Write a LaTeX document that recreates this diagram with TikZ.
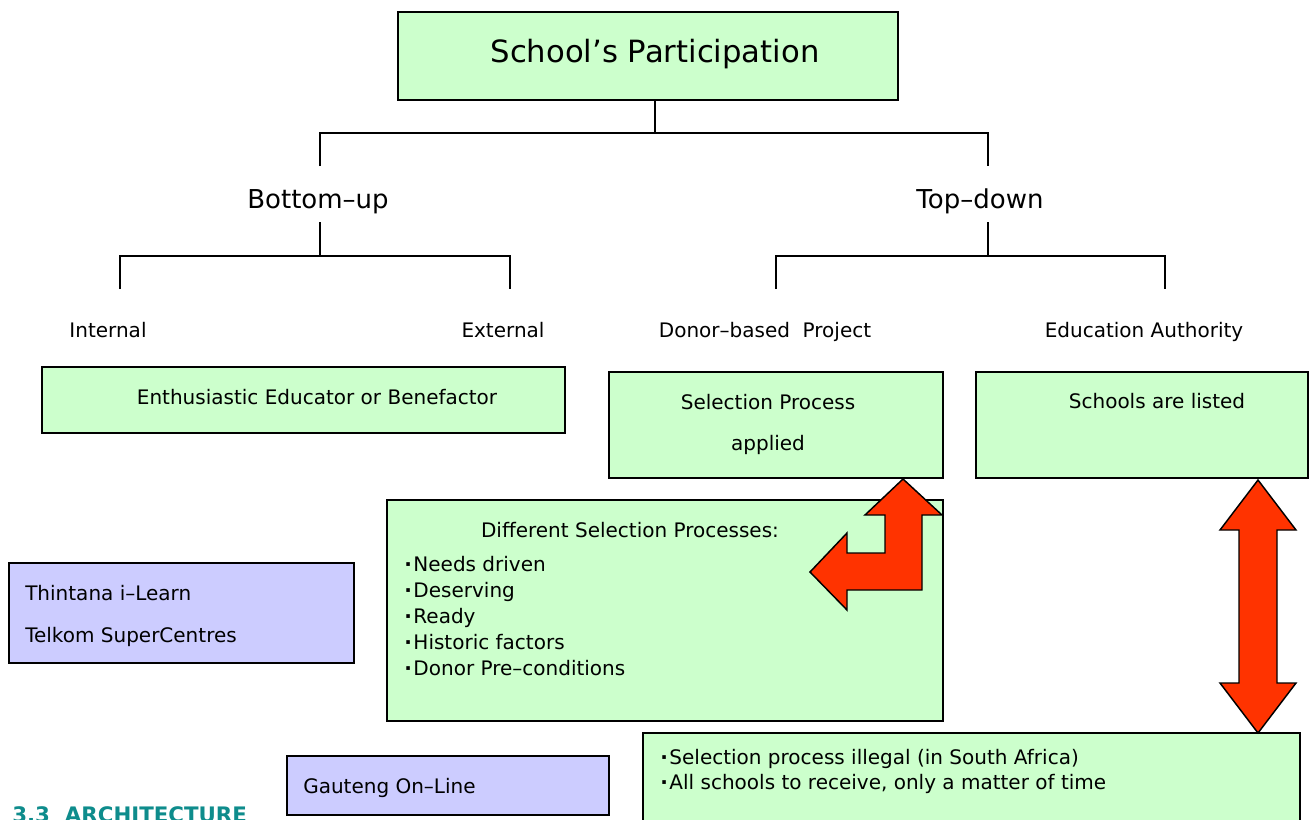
\documentclass[tikz,border=0pt]{standalone}
\usepackage{fontspec}
\setmainfont{DejaVu Sans}
\usetikzlibrary{fit}
\definecolor{boxgreen}{HTML}{CCFFCC}
\definecolor{boxblue}{HTML}{CCCCFF}
\definecolor{arrowred}{HTML}{FF3300}
\definecolor{tealtext}{HTML}{0E8C8C}
\newcommand{\bul}{{\bfseries ·}\hspace{1.2pt}}
\begin{document}
\begin{tikzpicture}[x=0.75pt,y=-0.75pt,
  gbox/.style={draw=black, line width=1.1pt, fill=boxgreen, inner sep=0pt},
  bbox/.style={draw=black, line width=1.1pt, fill=boxblue, inner sep=0pt},
  conn/.style={draw=black, line width=1.1pt},
  blockarrow/.style={draw=black, line width=1.1pt, fill=arrowred, line join=miter},
  titletext/.style={font=\fontsize{23}{28}\selectfont, inner sep=0pt, anchor=base},
  lvltext/.style={font=\fontsize{19.5}{24}\selectfont, inner sep=0pt, anchor=base},
  bodytext/.style={font=\fontsize{15}{18}\selectfont, inner sep=0pt, anchor=base},
  bodyleft/.style={font=\fontsize{15}{18}\selectfont, inner sep=0pt, anchor=base west},
  headtext/.style={font=\fontsize{16}{19}\selectfont\bfseries, text=tealtext, inner sep=0pt, anchor=base west}]
\clip (0,0) rectangle (1314,819);
\fill[white] (0,0) rectangle (1314,819);

% top box
\node[gbox, fit={(398,12) (898,100)}] (top) {};
\node[titletext] (toptext) at (655,62) {School’s Participation};

% level 2
\node[lvltext] (bu) at (318,208) {Bottom–up};
\node[lvltext] (td) at (980,208) {Top–down};

\coordinate (j0) at (655,133);
\coordinate (jL) at (320,133);
\coordinate (jR) at (988,133);
\coordinate (buTop) at (320,166);
\coordinate (tdTop) at (988,166);
\draw[conn] (j0 |- top.south) -- (j0);
\draw[conn] (buTop) -- (jL) -- (jR) -- (tdTop);

% level 3 connectors
\coordinate (buBot) at (320,222);
\coordinate (buJ) at (320,256);
\coordinate (buJL) at (120,256);
\coordinate (buJR) at (510,256);
\coordinate (inTop) at (120,289);
\coordinate (exTop) at (510,289);
\draw[conn] (buBot) -- (buJ);
\draw[conn] (inTop) -- (buJL) -- (buJR) -- (exTop);

\coordinate (tdBot) at (988,222);
\coordinate (tdJ) at (988,256);
\coordinate (tdJL) at (776,256);
\coordinate (tdJR) at (1165,256);
\coordinate (doTop) at (776,289);
\coordinate (eaTop) at (1165,289);
\draw[conn] (tdBot) -- (tdJ);
\draw[conn] (doTop) -- (tdJL) -- (tdJR) -- (eaTop);

% level 3 labels
\node[bodytext] (internal) at (108,337) {Internal};
\node[bodytext] (external) at (503,337) {External};
\node[bodytext] (donor) at (765,337) {Donor–based\ \ Project};
\node[bodytext] (eduauth) at (1144,337) {Education Authority};

% boxes
\node[gbox, fit={(42,367) (565,433)}] (enth) {};
\node[bodytext] (enthtext) at (317,404) {Enthusiastic Educator or Benefactor};

\node[gbox, fit={(609,372) (943,478)}] (selproc) {};
\node[bodytext] (seltext1) at (768,409) {Selection Process};
\node[bodytext] (seltext2) at (768,450) {applied};

\node[gbox, fit={(976,372) (1308,478)}] (listed) {};
\node[bodytext] (listedtext) at (1157,408) {Schools are listed};

\node[gbox, fit={(387,500) (943,721)}] (diff) {};
\node[bodytext] (diffhead) at (630,537) {Different Selection Processes:};
\node[bodyleft] (b1) at (404,571) {\bul Needs driven};
\node[bodyleft] (b2) at (404,597) {\bul Deserving};
\node[bodyleft] (b3) at (404,623) {\bul Ready};
\node[bodyleft] (b4) at (404,649) {\bul Historic factors};
\node[bodyleft] (b5) at (404,675) {\bul Donor Pre–conditions};

\node[bbox, fit={(9,563) (354,663)}] (thin) {};
\node[bodyleft] (thin1) at (25,600) {Thintana i–Learn};
\node[bodyleft] (thin2) at (25,642) {Telkom SuperCentres};

\node[bbox, fit={(287,756) (609,815)}] (gol) {};
\node[bodyleft] (goltext) at (303,793) {Gauteng On–Line};

\node[gbox, fit={(643,733) (1300,860)}] (illegal) {};
\node[bodyleft] (ill1) at (660,764) {\bul Selection process illegal (in South Africa)};
\node[bodyleft] (ill2) at (660,789) {\bul All schools to receive, only a matter of time};

% clipped heading at bottom left
\node[headtext] (arch) at (12,822) {3.3\ \ ARCHITECTURE};

% block arrows
\draw[blockarrow] (903,479) -- (942,515) -- (922,515) -- (922,590) -- (847,590)
  -- (847,610) -- (810,572) -- (847,533) -- (847,553) -- (885,553) -- (885,515)
  -- (865,515) -- cycle;
\draw[blockarrow] (1258,480) -- (1296,530) -- (1277,530) -- (1277,683) -- (1296,683)
  -- (1258,733) -- (1220,683) -- (1239,683) -- (1239,530) -- (1220,530) -- cycle;
\end{tikzpicture}
\end{document}
